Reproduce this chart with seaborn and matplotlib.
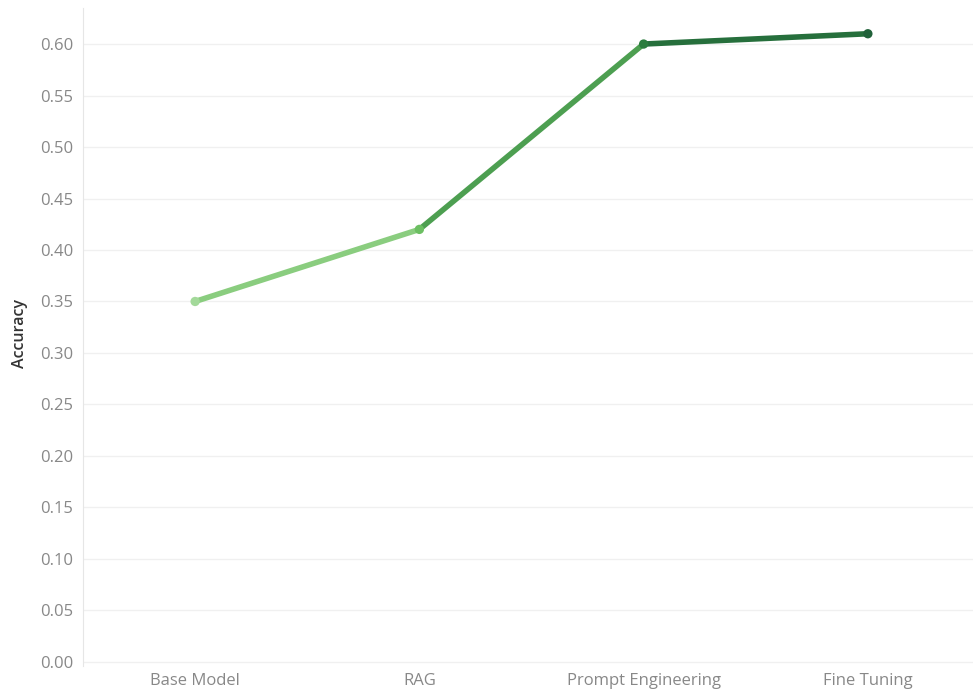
import numpy as np
import pandas as pd
import matplotlib.pyplot as plt
import seaborn as sns

# data
methods = ['Base Model', 'RAG', 'Prompt Engineering', 'Fine Tuning']
accuracy = [0.35, 0.42, 0.60, 0.61]
point_colors = ['#a3d99a', '#6cbf62', '#2b7d3e', '#21623a']
segment_colors = ['#8acd7f', '#4d9f51', '#266f3c']

df = pd.DataFrame({'method': methods, 'accuracy': accuracy})
df['pos'] = np.arange(len(df))

sns.set_style("white")
plt.rcParams['font.family'] = ['Open Sans', 'DejaVu Sans']

fig = plt.figure(figsize=(9.73, 6.96), dpi=100)
ax = fig.add_axes([83 / 973, 30 / 696, 897 / 973, 658 / 696])

# colour ramp along the line, one colour per segment
for i in range(len(df) - 1):
    seg = df.iloc[i:i + 2]
    sns.lineplot(data=seg, x='pos', y='accuracy', color=segment_colors[i],
                 linewidth=4, ax=ax, solid_capstyle='round')
sns.scatterplot(data=df, x='pos', y='accuracy', hue='method',
                palette=point_colors, s=45, edgecolor='none', legend=False,
                ax=ax, zorder=5)

ax.set_xlim(-0.5, 3.5)
ax.set_ylim(-0.004, 0.635)
ax.set_yticks(np.arange(0, 0.601, 0.05))
ax.set_yticklabels([f'{v:.2f}' for v in np.arange(0, 0.601, 0.05)])
ax.set_xticks(df['pos'])
ax.set_xticklabels(methods)

ax.grid(axis='y', color='#f0f0f0', linewidth=1)
for s in ['top', 'right', 'bottom']:
    ax.spines[s].set_visible(False)
ax.spines['left'].set_color('#e6e6e6')
ax.tick_params(axis='both', length=0, labelsize=12, colors='#888888')
ax.tick_params(axis='x', pad=5)
ax.tick_params(axis='y', pad=7)
ax.set_xlabel('')
ax.set_ylabel('Accuracy', fontsize=11.5, color='#333333', fontweight='semibold')
ax.yaxis.set_label_coords(-55 / 897, 0.506)

fig.savefig('out.png', dpi=100)
